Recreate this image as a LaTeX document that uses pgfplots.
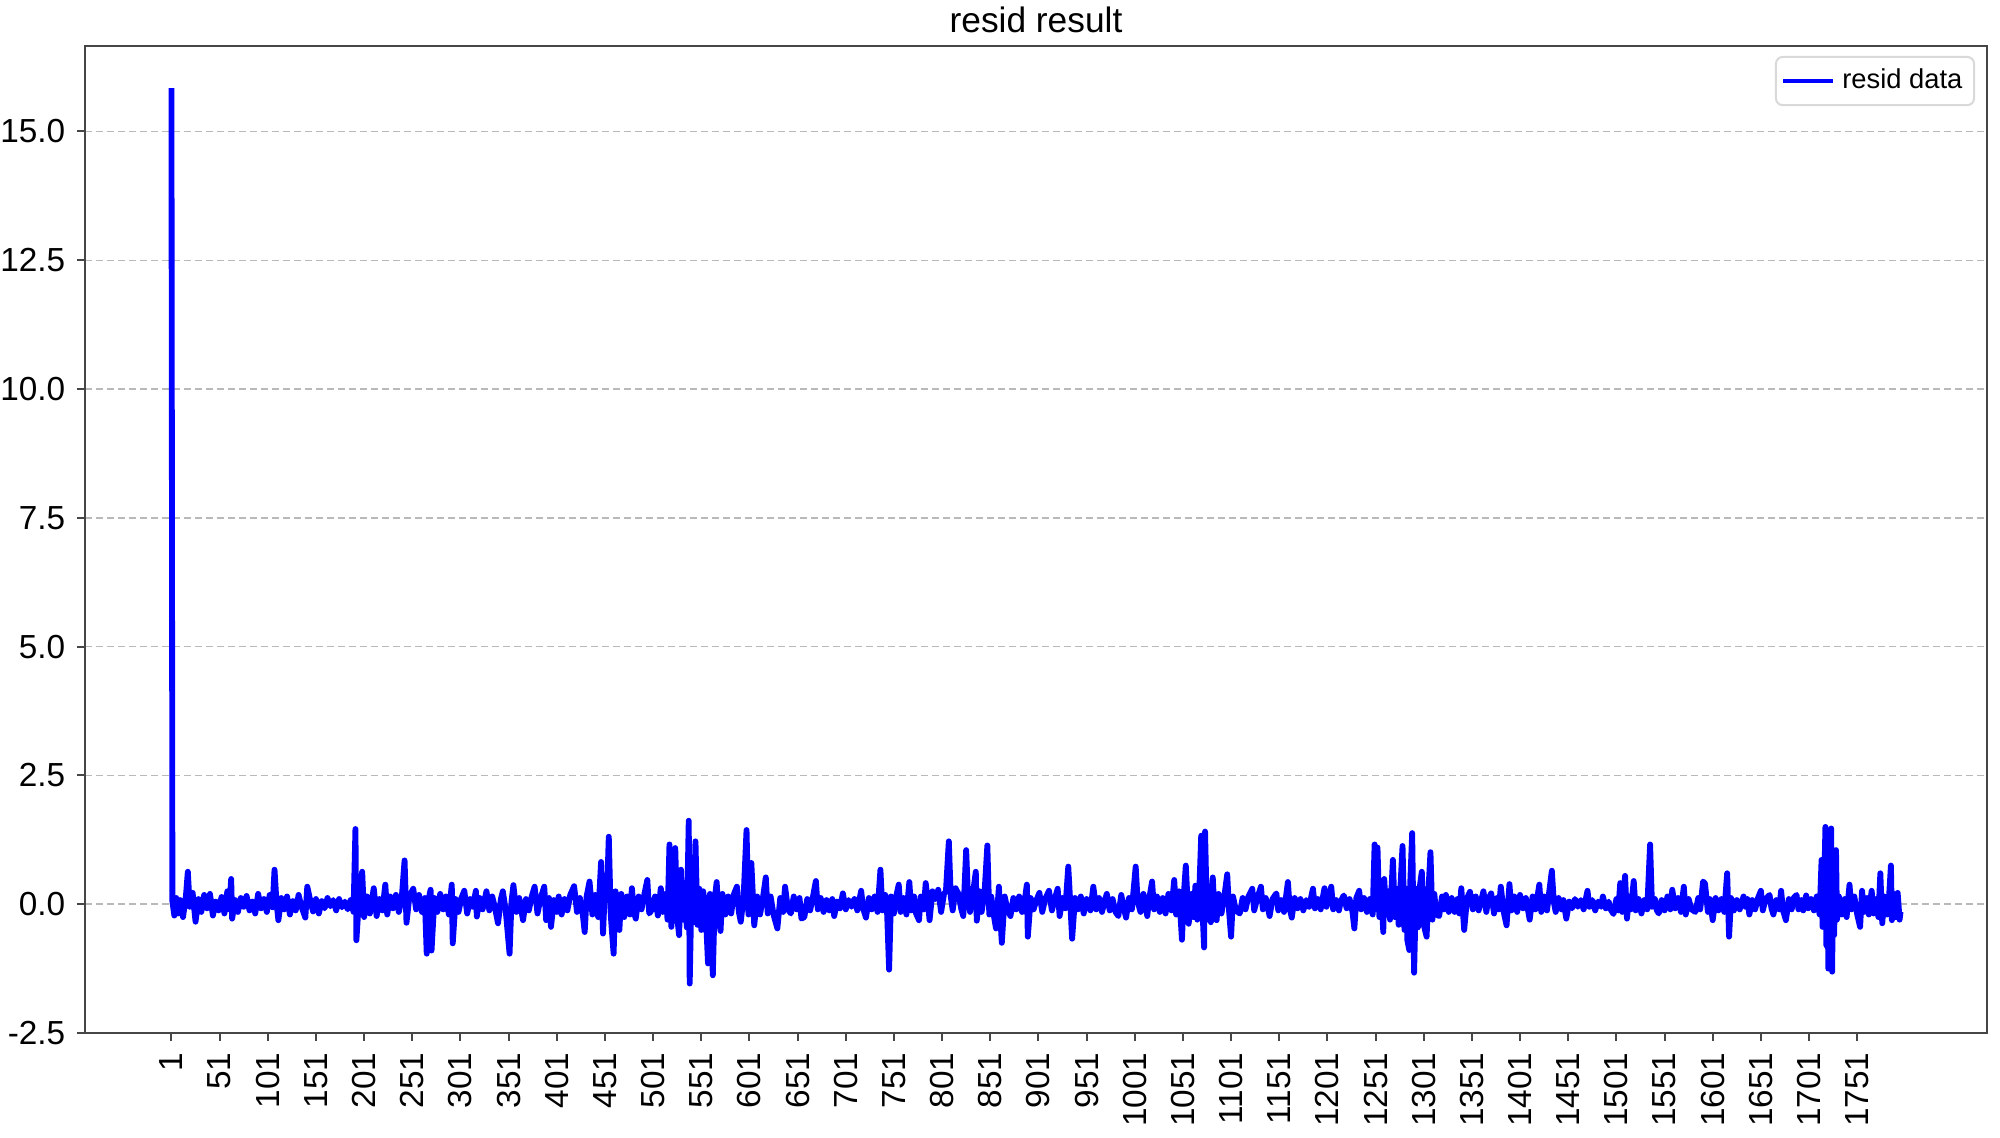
\documentclass[border=0pt]{standalone}
\usepackage{fontspec}
\setmainfont{Liberation Sans}
\usepackage{pgfplots}
\pgfplotsset{compat=1.18}

\definecolor{axisgray}{RGB}{70,70,70}
\definecolor{gridgray}{RGB}{185,185,185}

\begin{document}
\begin{tikzpicture}
\useasboundingbox (-25.5pt,-31.5pt) rectangle (574.5pt,309.9pt);
\begin{axis}[
    at={(0,0)}, anchor=south west,
    scale only axis,
    width=570.6pt, height=296.1pt,
    xmin=-88.75, xmax=1885.75,
    ymin=-2.5, ymax=16.66,
    axis line style={axisgray, line width=0.6pt},
    tick pos=left,
    tick align=outside,
    major tick length=2.4pt,
    every tick/.style={axisgray, line width=0.6pt},
    xtick={1,51,...,1751},
    ytick={-2.5,0,2.5,5,7.5,10,12.5,15},
    scaled ticks=false,
    /pgf/number format/assume math mode=true,
    /pgf/number format/1000 sep={},
    yticklabel style={/pgf/number format/fixed, /pgf/number format/fixed zerofill,
                      /pgf/number format/precision=1},
    tick label style={font=\fontsize{10}{12}\selectfont, black},
    xticklabel style={rotate=90, anchor=east},
    ymajorgrids=true,
    grid style={gridgray, line width=0.45pt, dash pattern=on 2.1pt off 1.2pt},
    title={resid result},
    title style={at={(0.5,1)}, anchor=base, yshift=-2.0pt, inner sep=0pt,
                 font=\fontsize{10.6}{12}\selectfont},
    legend style={at={(1,1)}, anchor=north east, xshift=-3.6pt, yshift=-3pt,
                  draw=gray!30, line width=0.6pt, rounded corners=2pt,
                  font=\fontsize{8.2}{9.5}\selectfont, inner sep=1.5pt,
                  legend cell align=left},
    legend image code/.code={\draw[#1, line width=1.4pt] (0pt,0pt) -- (15pt,0pt);},
]
\addplot[blue, line width=1.75pt, line join=round, mark=none] coordinates {
(1,15.84) (2,0.05) (4,-0.22) (6,0.12) (8,-0.18) (10,0.08) (13,-0.25) (16,0.15) (18,0.63) (20,-0.05)
(23,0.22) (26,-0.34) (29,0.10) (32,-0.15) (35,0.18) (38,-0.08) (41,0.20) (44,-0.22) (47,0.05) (50,-0.12)
(53,0.14) (56,-0.18) (59,0.25) (61,-0.10) (63,0.49) (64,-0.28) (67,0.08) (70,-0.15) (73,0.12) (76,-0.05)
(79,0.16) (82,-0.12) (85,0.05) (88,-0.18) (91,0.20) (94,-0.08) (97,0.10) (100,-0.15) (103,0.18) (106,-0.06)
(108,0.67) (110,0.05) (112,-0.31) (115,0.12) (118,-0.10) (121,0.15) (124,-0.20) (127,0.06) (130,-0.12) (133,0.18)
(136,-0.05) (140,-0.26) (142,0.34) (145,0.08) (148,-0.14) (151,0.10) (154,-0.18) (157,0.06) (160,-0.08) (163,0.12)
(166,-0.04) (169,0.08) (172,-0.12) (175,0.10) (178,-0.06) (181,0.05) (184,-0.10) (187,0.08) (190,-0.15) (192,1.46)
(193,-0.70) (196,0.20) (199,0.63) (201,-0.25) (204,0.15) (207,-0.18) (211,0.31) (214,-0.23) (217,0.10) (220,-0.12)
(223,0.38) (225,-0.20) (228,0.15) (231,-0.08) (234,0.18) (237,-0.15) (240,0.10) (243,0.85) (245,-0.36) (248,0.15)
(252,0.30) (255,-0.10) (258,0.18) (261,-0.15) (264,0.12) (266,-0.96) (268,0.10) (270,0.28) (271,-0.90) (274,0.12)
(277,-0.15) (280,0.20) (283,-0.10) (286,0.15) (289,-0.20) (292,0.38) (293,-0.76) (296,0.10) (299,-0.15) (302,0.12)
(305,0.26) (308,-0.18) (311,0.10) (314,-0.05) (317,0.26) (318,-0.24) (321,0.12) (324,-0.10) (328,0.25) (331,-0.12)
(334,0.15) (337,-0.08) (340,-0.37) (343,0.10) (345,0.25) (348,-0.12) (352,-0.96) (354,0.05) (356,0.37) (359,-0.15)
(362,0.12) (366,-0.31) (369,0.10) (372,-0.12) (375,0.15) (378,0.34) (381,-0.18) (384,0.10) (388,0.34) (390,-0.31)
(393,0.12) (395,-0.44) (398,0.08) (401,-0.15) (403,0.15) (406,-0.20) (409,0.10) (412,-0.12) (415,0.18) (419,0.35)
(422,-0.15) (425,0.12) (428,-0.20) (430,-0.54) (432,0.15) (435,0.44) (438,-0.20) (441,0.18) (444,-0.25) (447,0.82)
(449,-0.57) (451,0.30) (453,0.10) (455,1.31) (457,-0.20) (460,-0.96) (462,0.25) (464,-0.30) (466,-0.50) (468,0.20)
(471,-0.25) (474,0.15) (477,-0.20) (479,0.31) (481,-0.15) (483,-0.28) (486,0.15) (489,-0.10) (492,0.20) (495,0.47)
(497,-0.18) (500,-0.10) (503,0.15) (506,-0.22) (509,0.31) (511,-0.15) (514,0.20) (516,-0.30) (518,1.16) (520,-0.44)
(522,0.30) (524,1.09) (526,-0.25) (528,-0.60) (530,0.67) (532,-0.30) (534,0.35) (536,-0.45) (538,1.62) (539,-1.54)
(541,0.40) (543,-0.35) (545,1.22) (547,-0.40) (549,0.30) (551,-0.50) (553,0.25) (556,-0.30) (558,-1.15) (560,0.20)
(563,-1.38) (565,0.10) (567,0.43) (569,-0.25) (571,-0.52) (573,0.20) (576,-0.20) (579,0.15) (582,-0.18) (585,0.20)
(588,0.34) (590,-0.15) (592,-0.34) (595,0.15) (598,1.44) (600,-0.20) (603,0.80) (606,-0.41) (609,0.15) (612,-0.20)
(615,0.12) (618,0.52) (620,-0.18) (623,0.15) (626,-0.20) (630,-0.47) (633,0.12) (636,-0.15) (638,0.34) (641,-0.10)
(644,-0.18) (647,0.15) (650,-0.10) (653,0.12) (655,-0.28) (658,-0.25) (661,0.10) (664,-0.12) (667,0.15) (670,0.45)
(672,-0.10) (675,0.12) (678,-0.15) (681,0.08) (684,-0.12) (687,0.10) (689,-0.23) (692,0.05) (695,-0.08) (698,0.21)
(701,-0.10) (704,0.08) (707,-0.05) (710,0.10) (713,-0.12) (717,0.26) (719,-0.08) (722,-0.26) (725,0.12) (728,-0.10)
(731,0.15) (734,-0.15) (737,0.67) (739,-0.12) (742,0.18) (744,-0.20) (746,-1.27) (748,0.15) (751,-0.18) (753,0.12)
(756,0.38) (758,-0.15) (761,0.12) (764,-0.20) (767,0.43) (769,-0.12) (772,0.15) (774,-0.18) (777,-0.31) (779,0.15)
(782,-0.10) (784,0.41) (786,0.10) (788,-0.31) (791,0.25) (794,0.10) (797,0.28) (800,-0.15) (803,0.20) (805,0.25)
(808,1.22) (810,0.15) (812,-0.12) (815,0.31) (818,0.20) (821,-0.10) (823,-0.23) (826,1.05) (828,0.10) (830,-0.15)
(833,0.20) (836,0.63) (837,-0.32) (840,0.25) (842,-0.15) (845,0.20) (848,1.14) (850,-0.20) (852,0.15) (855,-0.25)
(857,-0.47) (860,0.34) (861,-0.10) (863,-0.75) (866,0.15) (869,-0.12) (872,-0.23) (875,0.12) (878,-0.10) (881,0.15)
(884,-0.15) (887,0.10) (889,0.38) (890,-0.63) (893,0.12) (896,-0.10) (899,0.08) (902,0.22) (905,-0.15) (908,0.10)
(912,0.26) (915,-0.12) (918,0.10) (921,0.30) (923,-0.23) (926,0.12) (929,-0.08) (932,0.73) (934,0.05) (936,-0.67)
(939,0.12) (942,-0.10) (945,0.15) (948,-0.18) (951,0.10) (955,-0.12) (958,0.34) (961,-0.10) (964,0.12) (967,-0.15)
(970,0.08) (972,0.20) (975,-0.12) (978,0.10) (981,-0.15) (984,-0.23) (987,0.18) (990,-0.10) (992,-0.26) (995,0.12)
(998,-0.10) (1002,0.73) (1004,0.05) (1007,-0.15) (1010,0.20) (1014,-0.23) (1016,0.10) (1019,0.44) (1021,-0.10) (1024,0.15)
(1027,-0.15) (1030,0.12) (1033,-0.18) (1036,0.20) (1039,-0.12) (1042,0.47) (1044,-0.20) (1047,0.25) (1050,-0.69) (1052,0.20)
(1054,0.75) (1057,-0.38) (1060,0.20) (1062,-0.25) (1064,0.36) (1066,-0.30) (1068,0.25) (1070,1.33) (1072,-0.40) (1073,-0.84)
(1074,1.41) (1076,-0.30) (1078,0.35) (1080,-0.35) (1082,0.52) (1084,-0.25) (1086,-0.31) (1088,0.20) (1091,-0.18) (1094,0.15)
(1097,0.58) (1099,-0.15) (1101,-0.63) (1103,0.15) (1106,-0.12) (1110,-0.18) (1113,0.12) (1116,-0.10) (1119,0.15) (1123,0.30)
(1125,-0.12) (1128,0.10) (1132,0.34) (1134,-0.10) (1137,0.12) (1141,-0.23) (1144,0.10) (1148,0.21) (1150,-0.12) (1153,0.08)
(1156,-0.15) (1160,0.43) (1162,-0.10) (1164,-0.26) (1167,0.12) (1170,-0.08) (1173,0.10) (1176,-0.12) (1179,0.08) (1182,-0.05)
(1186,0.30) (1188,-0.08) (1191,0.10) (1194,-0.10) (1198,0.31) (1200,-0.05) (1202,0.10) (1205,0.34) (1207,-0.10) (1210,0.08)
(1213,-0.12) (1215,0.06) (1218,0.17) (1221,-0.08) (1224,0.10) (1227,-0.15) (1229,-0.47) (1231,0.12) (1234,0.26) (1236,-0.10)
(1239,0.12) (1242,-0.15) (1245,0.10) (1248,-0.20) (1250,1.16) (1252,-0.10) (1253,1.10) (1255,-0.25) (1257,0.20) (1259,-0.54)
(1260,0.49) (1262,-0.20) (1264,0.25) (1266,-0.30) (1269,0.86) (1271,-0.25) (1273,0.30) (1275,-0.40) (1277,0.40) (1279,1.13)
(1281,-0.50) (1283,0.30) (1284,-0.70) (1286,-0.89) (1287,0.40) (1289,1.38) (1291,-1.33) (1293,0.30) (1295,-0.45) (1297,0.35)
(1299,0.63) (1301,-0.40) (1304,-0.63) (1306,0.30) (1308,1.01) (1310,-0.30) (1312,0.20) (1314,-0.20) (1317,-0.23) (1320,0.15)
(1322,-0.10) (1324,0.18) (1327,-0.15) (1330,0.12) (1333,-0.15) (1336,0.10) (1338,-0.18) (1340,0.31) (1343,-0.50) (1346,0.12)
(1349,0.24) (1352,-0.10) (1355,0.15) (1358,-0.12) (1361,0.10) (1363,0.25) (1366,-0.15) (1368,0.10) (1371,0.21) (1374,-0.18)
(1377,0.12) (1379,-0.10) (1381,0.34) (1384,-0.15) (1387,-0.41) (1390,0.39) (1392,-0.12) (1395,0.15) (1398,-0.15) (1401,0.18)
(1404,-0.08) (1407,0.12) (1411,-0.30) (1414,0.15) (1417,-0.10) (1421,0.38) (1423,-0.15) (1426,0.15) (1429,-0.12) (1431,0.20)
(1434,0.65) (1436,0.05) (1438,-0.15) (1441,0.12) (1444,-0.10) (1446,0.08) (1449,-0.28) (1452,0.05) (1455,-0.08) (1458,0.10)
(1461,-0.05) (1464,0.08) (1467,-0.10) (1471,0.26) (1473,-0.05) (1476,0.08) (1479,-0.12) (1482,0.05) (1485,-0.05) (1487,0.15)
(1490,-0.08) (1493,0.05) (1495,-0.10) (1498,-0.19) (1501,0.10) (1503,-0.12) (1505,0.41) (1507,-0.15) (1510,0.55) (1512,-0.28)
(1514,0.15) (1516,-0.10) (1519,0.45) (1521,-0.12) (1524,0.10) (1527,-0.18) (1530,0.08) (1533,-0.10) (1536,1.16) (1538,-0.05)
(1541,0.10) (1543,-0.12) (1545,-0.18) (1548,0.08) (1551,-0.12) (1554,0.15) (1557,-0.10) (1559,0.28) (1562,-0.08) (1565,0.12)
(1568,-0.15) (1571,0.34) (1573,-0.20) (1576,0.10) (1579,-0.10) (1583,-0.15) (1586,0.12) (1588,-0.10) (1591,0.44) (1593,0.40)
(1596,-0.15) (1598,0.10) (1601,-0.31) (1604,0.12) (1607,-0.12) (1610,0.10) (1613,-0.15) (1616,0.60) (1618,-0.63) (1620,0.12)
(1623,-0.12) (1626,0.08) (1629,-0.10) (1633,0.15) (1635,-0.05) (1637,0.10) (1639,-0.20) (1642,0.08) (1645,-0.10) (1648,0.12)
(1651,0.26) (1653,-0.12) (1656,0.10) (1660,0.18) (1662,-0.08) (1664,-0.20) (1667,0.08) (1670,-0.10) (1672,0.26) (1674,-0.12)
(1677,-0.31) (1680,0.10) (1683,-0.10) (1685,0.12) (1688,0.18) (1690,-0.10) (1693,0.08) (1695,-0.12) (1698,0.17) (1700,-0.08)
(1703,0.10) (1706,-0.12) (1709,0.15) (1712,-0.20) (1714,0.86) (1715,-0.44) (1717,0.60) (1718,1.50) (1719,-0.80) (1720,1.20)
(1721,-1.25) (1722,1.30) (1723,-1.10) (1724,1.47) (1725,-1.31) (1726,0.90) (1727,-0.60) (1729,1.05) (1730,-0.30) (1732,0.15)
(1735,-0.20) (1738,0.10) (1740,-0.25) (1743,0.38) (1745,-0.10) (1748,0.15) (1751,-0.20) (1754,-0.44) (1756,0.26) (1758,-0.15)
(1761,0.12) (1763,-0.20) (1766,0.26) (1768,-0.18) (1771,0.10) (1773,-0.25) (1775,0.60) (1777,-0.37) (1779,0.15) (1782,-0.20)
(1784,0.12) (1786,0.75) (1787,-0.31) (1789,0.20) (1791,-0.25) (1793,0.22) (1795,-0.30) (1796,-0.15)
};
\addlegendentry{resid data}
\end{axis}
\end{tikzpicture}
\end{document}
